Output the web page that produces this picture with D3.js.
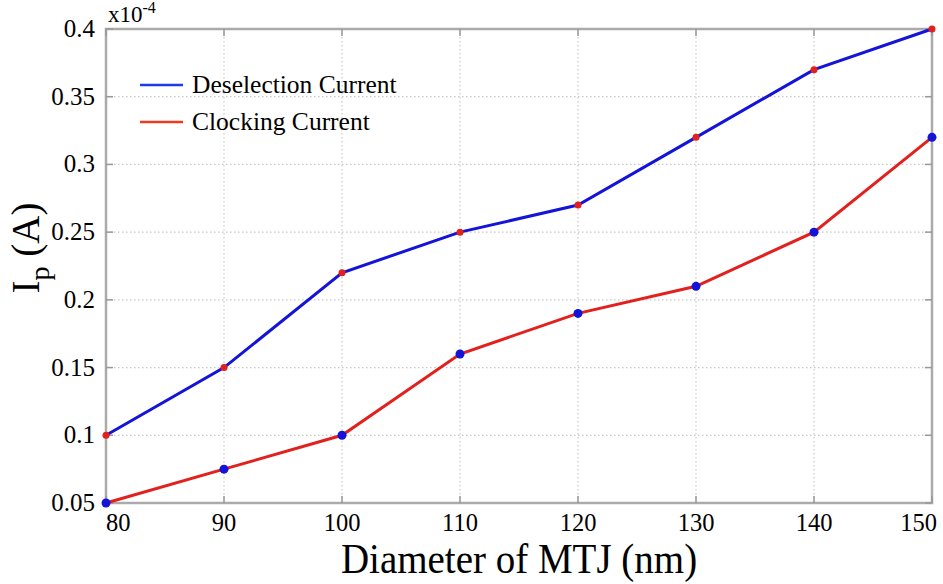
<!DOCTYPE html>
<html><head><meta charset="utf-8">
<script src="https://cdn.jsdelivr.net/npm/d3@7"></script>
<style>body{margin:0;background:#fff}svg{display:block}text{font-family:"Liberation Serif","Times New Roman",serif;fill:#000}</style>
</head><body><svg id="c" width="943" height="584"></svg>
<script>
const diameters = [80, 90, 100, 110, 120, 130, 140, 150];
const deselection = [0.10, 0.15, 0.22, 0.25, 0.27, 0.32, 0.37, 0.40];
const clocking = [0.05, 0.075, 0.10, 0.16, 0.19, 0.21, 0.25, 0.32];
const yTicks = [0.05, 0.1, 0.15, 0.2, 0.25, 0.3, 0.35, 0.4];
const xTicks = [80, 90, 100, 110, 120, 130, 140, 150];

const svg = d3.select("#c");
const L = 106, R = 932, T = 29, B = 503;
const x = d3.scaleLinear().domain([80, 150]).range([L, R]);
const y = d3.scaleLinear().domain([0.05, 0.4]).range([B, T]);

// grid
const g = svg.append("g");
g.selectAll(".gx").data(xTicks.slice(1, -1)).enter().append("line")
  .attr("x1", d => x(d)).attr("x2", d => x(d)).attr("y1", T).attr("y2", B)
  .attr("stroke", "#c8c8c8").attr("stroke-width", 1.2).attr("stroke-dasharray", "1.5,2.5");
g.selectAll(".gy").data(yTicks.slice(1, -1)).enter().append("line")
  .attr("y1", d => y(d)).attr("y2", d => y(d)).attr("x1", L).attr("x2", R)
  .attr("stroke", "#c8c8c8").attr("stroke-width", 1.2).attr("stroke-dasharray", "1.5,2.5");

// frame
svg.append("rect").attr("x", L).attr("y", T).attr("width", R - L).attr("height", B - T)
  .attr("fill", "none").attr("stroke", "#ababab").attr("stroke-width", 2.5);

// ticks (inner)
const ax = svg.append("g");
xTicks.forEach(t => {
  ax.append("line").attr("x1", x(t)).attr("x2", x(t)).attr("y1", B).attr("y2", B - 7).attr("stroke", "#999").attr("stroke-width", 1.5);
  ax.append("line").attr("x1", x(t)).attr("x2", x(t)).attr("y1", T).attr("y2", T + 7).attr("stroke", "#999").attr("stroke-width", 1.5);
});
yTicks.forEach(t => {
  ax.append("line").attr("x1", L).attr("x2", L + 7).attr("y1", y(t)).attr("y2", y(t)).attr("stroke", "#999").attr("stroke-width", 1.5);
  ax.append("line").attr("x1", R).attr("x2", R - 7).attr("y1", y(t)).attr("y2", y(t)).attr("stroke", "#999").attr("stroke-width", 1.5);
});

// tick labels
const last = xTicks.length - 1;
svg.selectAll(".xl").data(xTicks).enter().append("text")
  .attr("x", (d, i) => i === 0 ? L : i === last ? 937 : x(d))
  .attr("y", 531)
  .attr("text-anchor", (d, i) => i === 0 ? "start" : i === last ? "end" : "middle")
  .attr("font-size", 24.5).text(d => d);
svg.selectAll(".yl").data(yTicks).enter().append("text")
  .attr("x", 95).attr("y", d => y(d) + 8).attr("text-anchor", "end")
  .attr("font-size", 25).text(d => String(d));

// exponent
const ex = svg.append("text").attr("x", 108).attr("y", 22).attr("font-size", 23);
ex.append("tspan").text("x10");
ex.append("tspan").attr("dy", -9).attr("font-size", 16).text("-4");

// axis titles
svg.append("text").attr("transform", "translate(519,573) scale(1,1.08)").attr("text-anchor", "middle")
  .attr("font-size", 39).text("Diameter of MTJ (nm)");
const yt = svg.append("text").attr("transform", "translate(39,248) rotate(-90)")
  .attr("text-anchor", "middle").attr("font-size", 39);
yt.append("tspan").text("I");
yt.append("tspan").attr("dy", 10).attr("font-size", 28).text("p");
yt.append("tspan").attr("dy", -10).text(" (A)");

// lines
const line = d3.line().x((d, i) => x(diameters[i])).y(d => y(d));
svg.append("path").datum(deselection).attr("d", line).attr("fill", "none")
  .attr("stroke", "#1414d8").attr("stroke-width", 3);
svg.append("path").datum(clocking).attr("d", line).attr("fill", "none")
  .attr("stroke", "#e2201e").attr("stroke-width", 3);
svg.selectAll(".md").data(deselection).enter().append("circle")
  .attr("cx", (d, i) => x(diameters[i])).attr("cy", d => y(d)).attr("r", 3.5).attr("fill", "#e2201e");
svg.selectAll(".mc").data(clocking).enter().append("circle")
  .attr("cx", (d, i) => x(diameters[i])).attr("cy", d => y(d)).attr("r", 4.5).attr("fill", "#1414d8");

// legend
const lg = [{n: "Deselection Current", c: "#1a3cf0", y: 85}, {n: "Clocking Current", c: "#f03a1e", y: 122}];
lg.forEach(l => {
  svg.append("line").attr("x1", 140).attr("x2", 183).attr("y1", l.y).attr("y2", l.y).attr("stroke", l.c).attr("stroke-width", 2.5);
  svg.append("text").attr("x", 192).attr("y", l.y + 8).attr("font-size", 25.5).text(l.n);
});
</script></body></html>
